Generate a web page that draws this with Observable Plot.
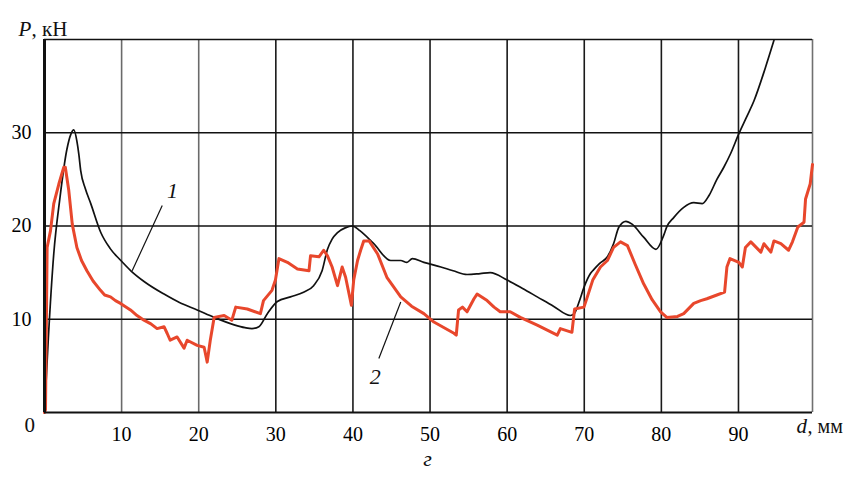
<!DOCTYPE html>
<html><head><meta charset="utf-8">
<script src="https://cdn.jsdelivr.net/npm/d3@7"></script>
<script src="https://cdn.jsdelivr.net/npm/@observablehq/plot@0.6"></script>
<style>
body{margin:0;background:#fff}
</style>
</head><body><div id="chart"></div>
<script>
// Curve 1 (black): displacement d, mm / force P, kN
const d1 = [0, 0.5, 1.2, 2.0, 2.9, 3.4, 3.8, 4.2, 4.45, 4.7, 5.3, 6.0, 7.3, 8.5, 9.9, 11.2, 13.0, 15.5, 17.5, 19.8, 22.0, 24.6, 26.0, 26.9, 27.8, 28.9, 30.2, 31.9, 33.6, 34.9, 36.0, 36.7, 37.3, 38.0, 39.0, 39.9, 40.9, 42.7, 44.9, 46.2, 47.0, 47.7, 49.2, 51.4, 53.0, 54.8, 56.5, 57.8, 60.0, 62.0, 63.9, 66.0, 68.2, 68.7, 69.3, 70.0, 70.8, 71.2, 72.0, 73.0, 73.8, 74.5, 75.4, 76.2, 77.7, 79.3, 80.3, 80.7, 81.6, 82.9, 84.2, 85.3, 86.2, 87.2, 88.1, 89.0, 90.05, 91.0, 92.0, 93.5, 94.6];
const p1 = [0, 8, 17, 23, 28.2, 29.8, 30.3, 29.1, 27.7, 25.9, 24.0, 22.4, 19.3, 17.6, 16.3, 15.2, 14.0, 12.7, 11.8, 11.0, 10.2, 9.4, 9.1, 9.0, 9.2, 10.6, 11.9, 12.4, 12.9, 13.6, 15.2, 17.5, 18.6, 19.3, 19.8, 20.0, 19.5, 18.1, 16.3, 16.3, 16.1, 16.5, 16.1, 15.6, 15.2, 14.8, 14.9, 15.0, 14.2, 13.3, 12.4, 11.4, 10.4, 10.6, 11.8, 13.5, 14.9, 15.3, 16.0, 16.7, 18.1, 19.9, 20.5, 20.2, 18.8, 17.5, 19.0, 19.9, 20.9, 22.0, 22.5, 22.4, 23.3, 25.0, 26.3, 27.8, 29.9, 31.6, 33.4, 37.0, 39.9];

// Curve 2 (red)
const d2 = [0, 0.13, 0.34, 0.78, 1.2, 1.86, 2.5, 2.7, 3.15, 3.6, 4.2, 4.8, 5.5, 6.3, 7.26, 7.8, 8.56, 9.2, 9.86, 11.15, 12.0, 12.9, 13.8, 14.6, 15.5, 15.9, 16.3, 17.2, 18.1, 18.5, 19.8, 20.7, 21.1, 21.5, 22.0, 23.3, 24.3, 24.8, 26.3, 28.0, 28.4, 29.5, 29.95, 30.4, 31.5, 32.8, 34.3, 34.5, 35.6, 36.2, 36.7, 37.3, 38.0, 38.6, 39.05, 39.8, 40.1, 40.6, 41.0, 41.4, 42.1, 43.2, 44.4, 46.2, 47.6, 49.2, 50.5, 53.1, 53.4, 53.7, 54.2, 54.8, 55.7, 56.1, 57.4, 58.3, 59.1, 60.4, 61.7, 63.9, 66.5, 66.9, 68.4, 68.75, 69.96, 70.4, 71.1, 72.1, 73.0, 73.8, 74.7, 75.6, 76.6, 77.7, 78.8, 79.9, 80.7, 82.1, 82.9, 84.2, 85.1, 85.9, 87.2, 88.2, 88.5, 88.9, 90.05, 90.5, 90.9, 91.6, 92.9, 93.3, 94.2, 94.6, 95.5, 96.5, 97.0, 97.7, 98.5, 98.7, 99.3, 99.6];
const p2 = [0, 0.3, 17.7, 19.5, 22.4, 24.5, 26.3, 26.3, 23.8, 20.2, 17.7, 16.3, 15.2, 14.1, 13.1, 12.6, 12.4, 12.0, 11.7, 11.0, 10.4, 9.9, 9.5, 9.0, 9.2, 8.5, 7.75, 8.1, 6.9, 7.75, 7.2, 7.0, 5.4, 7.75, 10.2, 10.4, 9.9, 11.3, 11.1, 10.6, 12.0, 13.1, 14.2, 16.5, 16.1, 15.4, 15.2, 16.8, 16.7, 17.4, 16.8, 15.6, 13.6, 15.6, 14.5, 11.5, 14.2, 16.3, 17.4, 18.4, 18.4, 17.0, 14.5, 12.4, 11.4, 10.6, 9.7, 8.5, 8.3, 11.0, 11.3, 10.8, 12.2, 12.7, 12.0, 11.3, 10.8, 10.8, 10.2, 9.36, 8.3, 9.0, 8.6, 11.1, 11.3, 12.4, 14.2, 15.6, 16.3, 17.7, 18.3, 17.9, 15.9, 13.8, 12.1, 10.8, 10.2, 10.3, 10.6, 11.7, 12.0, 12.2, 12.6, 12.9, 15.6, 16.5, 16.1, 15.6, 17.7, 18.3, 17.2, 18.1, 17.2, 18.4, 18.1, 17.4, 18.3, 19.9, 20.4, 22.9, 24.5, 26.6];

const xTicks = [10, 20, 30, 40, 50, 60, 70, 80, 90];
const yTicks = [10, 20, 30];
const xMax = 99.6;
const yMax = 40;

// Curve labels and leader lines (data units)
const curveLabels = ["1", "2"];
const labelX = [16.6, 42.9];
const labelY = [23.8, 3.8];
const leadX1 = [15.27, 43.36];
const leadY1 = [22.2, 5.8];
const leadX2 = [11.37, 46.2];
const leadY2 = [15.2, 11.85];

const curve1 = d1.map((d, i) => ({d, p: p1[i]}));
const curve2 = d2.map((d, i) => ({d, p: p2[i]}));
const labels = curveLabels.map((t, i) => ({t, x: labelX[i], y: labelY[i]}));
const leaders = curveLabels.map((t, i) => ({x1: leadX1[i], y1: leadY1[i], x2: leadX2[i], y2: leadY2[i]}));

const FF = "Liberation Serif";
const plot = Plot.plot({
  width: 855, height: 477,
  marginLeft: 44, marginRight: 43, marginTop: 39, marginBottom: 65,
  x: {domain: [0, xMax]},
  y: {domain: [0, yMax]},
  style: {fontFamily: FF, fontSize: "20px"},
  marks: [
    Plot.ruleX(xTicks, {stroke: d => d <= 20 ? "#6a6a6a" : "#1a1a1a", strokeWidth: 1.6}),
    Plot.ruleX([xMax], {stroke: "#707070", strokeWidth: 1.6}),
    Plot.ruleY(yTicks, {stroke: "#111", strokeWidth: 1.5}),
    Plot.ruleY([yMax], {stroke: "#111", strokeWidth: 1.5}),
    Plot.line(curve1, {x: "d", y: "p", stroke: "#111", strokeWidth: 1.7, curve: "monotone-x"}),
    Plot.line(curve2, {x: "d", y: "p", stroke: "#e8472c", strokeWidth: 3, strokeLinejoin: "round"}),
    Plot.ruleX([0], {stroke: "#111", strokeWidth: 3}),
    Plot.ruleY([0], {stroke: "#111", strokeWidth: 2}),
    Plot.axisX({ticks: xTicks, tickSize: 0, tickPadding: 14, label: null, fontSize: 20, fontFamily: FF}),
    Plot.axisY({ticks: yTicks, tickSize: 0, tickPadding: 13, label: null, fontSize: 20, fontFamily: FF}),
    Plot.link(leaders, {x1: "x1", y1: "y1", x2: "x2", y2: "y2", stroke: "#111", strokeWidth: 1.2}),
    Plot.text(labels, {x: "x", y: "y", text: "t", fontStyle: "italic", fontSize: 22, fill: "#111", fontFamily: FF}),
    Plot.text(["0"], {frameAnchor: "bottom-left", dx: -20, dy: 19, fontSize: 21, fill: "#111", fontFamily: FF}),
    Plot.text(["P"], {frameAnchor: "top-left", dx: -26, dy: -18, textAnchor: "start", fontStyle: "italic", fontSize: 21, fill: "#111", fontFamily: FF}),
    Plot.text([", кН"], {frameAnchor: "top-left", dx: -13, dy: -18, textAnchor: "start", fontSize: 21, fill: "#111", fontFamily: FF}),
    Plot.text(["d"], {frameAnchor: "bottom-right", dx: -16, dy: 20, textAnchor: "start", fontStyle: "italic", fontSize: 21, fill: "#111", fontFamily: FF}),
    Plot.text([", мм"], {frameAnchor: "bottom-right", dx: -5, dy: 20, textAnchor: "start", fontSize: 20, fill: "#111", fontFamily: FF}),
    Plot.text(["г"], {frameAnchor: "bottom", dx: -1, dy: 53, fontStyle: "italic", fontSize: 22, fill: "#111", fontFamily: FF})
  ]
});
plot.querySelectorAll("text").forEach(t => t.setAttribute("font-family", FF));
document.getElementById("chart").appendChild(plot);
</script>
</body></html>
